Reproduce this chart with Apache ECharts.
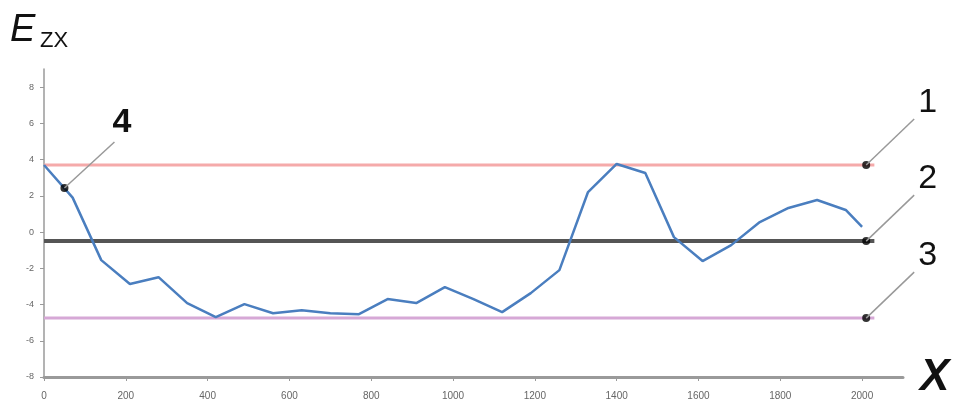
<!DOCTYPE html>
<html><head><meta charset="utf-8">
<script src="https://cdn.jsdelivr.net/npm/echarts@6/dist/echarts.min.js"></script>
<style>html,body{margin:0;padding:0;background:#fff}#c{width:957px;height:412px}</style>
</head><body><div id="c"></div>
<script>
var xValues = [0,70,140,210,280,350,420,490,560,630,700,770,840,910,980,1050,1120,1190,1260,1330,1400,1470,1540,1610,1680,1750,1820,1890,1960,2000];
var ezxValues = [3.7,1.9,-1.55,-2.87,-2.49,-3.92,-4.7,-3.98,-4.48,-4.31,-4.48,-4.53,-3.7,-3.92,-3.04,-3.7,-4.42,-3.37,-2.1,2.21,3.76,3.26,-0.28,-1.6,-0.72,0.55,1.33,1.77,1.22,0.28];
var levelValues = [3.7, -0.5, -4.75];
var levelNames = ['1','2','3'];
var levelStart = 0, levelEnd = 2030, markerX = 2010;
var point4 = [50, 2.43];
var xTicks = [0,200,400,600,800,1000,1200,1400,1600,1800,2000];
var yTicks = [-8,-6,-4,-2,0,2,4,6,8];

var chart = echarts.init(document.getElementById('c'));
var levelColors = ['#f5aaaa', '#555555', '#d6a8d6'];
var levelWidths = [3, 4, 3];
var series = [];
levelValues.forEach(function(v, i){
  series.push({type:'line', data:[[levelStart, v],[levelEnd, v]], symbol:'none', z:2,
    lineStyle:{color:levelColors[i], width:levelWidths[i]}, silent:true});
});
series.push({type:'line', data:xValues.map(function(x,i){return [x, ezxValues[i]];}), symbol:'none', z:3,
  lineStyle:{color:'#4a7ebf', width:2.5}});
var markers = levelValues.map(function(v){return [markerX, v];});
markers.push(point4);
series.push({type:'scatter', data:markers, symbolSize:8, itemStyle:{color:'#000'}, z:5});
chart.setOption({
  animation:false,
  grid:{left:44, right:54, top:69, bottom:35},
  xAxis:{type:'value', min:0, max:2100, interval:200,
    axisLine:{onZero:false, lineStyle:{color:'#9a9a9a', width:3}},
    axisTick:{show:true, length:4, lineStyle:{color:'#9a9a9a'}},
    axisLabel:{color:'#666', fontSize:10, fontFamily:'Liberation Sans', margin:14, showMaxLabel:false,
      formatter:function(v){return xTicks.indexOf(v) >= 0 ? String(v) : '';}},
    splitLine:{show:false}},
  yAxis:{type:'value', min:-8, max:9, interval:2,
    axisLine:{show:true, lineStyle:{color:'#9a9a9a', width:1.5}},
    axisTick:{show:true, length:4, lineStyle:{color:'#9a9a9a'}},
    axisLabel:{color:'#666', fontSize:9, fontFamily:'Liberation Sans', margin:10, showMaxLabel:false,
      formatter:function(v){return yTicks.indexOf(v) >= 0 ? String(v) : '';}},
    splitLine:{show:false}},
  series:series
});

function px(p){ return chart.convertToPixel({gridIndex:0}, p); }
var g = [];
levelValues.forEach(function(v, i){
  var p = px([markerX, v]);
  g.push({type:'line', shape:{x1:p[0], y1:p[1], x2:p[0]+48, y2:p[1]-46}, style:{stroke:'#999', lineWidth:1.5}, z:10});
  g.push({type:'text', x:p[0]+52, y:p[1]-45, style:{text:levelNames[i], font:'34px "Liberation Sans"', fill:'#111', textAlign:'left', textVerticalAlign:'bottom'}, z:10});
});
var p4 = px(point4);
g.push({type:'line', shape:{x1:p4[0], y1:p4[1], x2:p4[0]+50, y2:p4[1]-46}, style:{stroke:'#999', lineWidth:1.5}, z:10});
g.push({type:'text', x:p4[0]+48, y:p4[1]-48, style:{text:'4', font:'bold 34px "Liberation Sans"', fill:'#111', textAlign:'left', textVerticalAlign:'bottom'}, z:10});
g.push({type:'text', x:10, y:49, style:{text:'E', font:'italic 38px "Liberation Sans"', fill:'#111', textVerticalAlign:'bottom'}});
g.push({type:'text', x:40, y:52, style:{text:'ZX', font:'22px "Liberation Sans"', fill:'#111', textVerticalAlign:'bottom'}});
g.push({type:'text', x:920, y:400, style:{text:'X', font:'italic bold 44px "Liberation Sans"', fill:'#111', textVerticalAlign:'bottom'}});
chart.setOption({graphic:g});
</script></body></html>
